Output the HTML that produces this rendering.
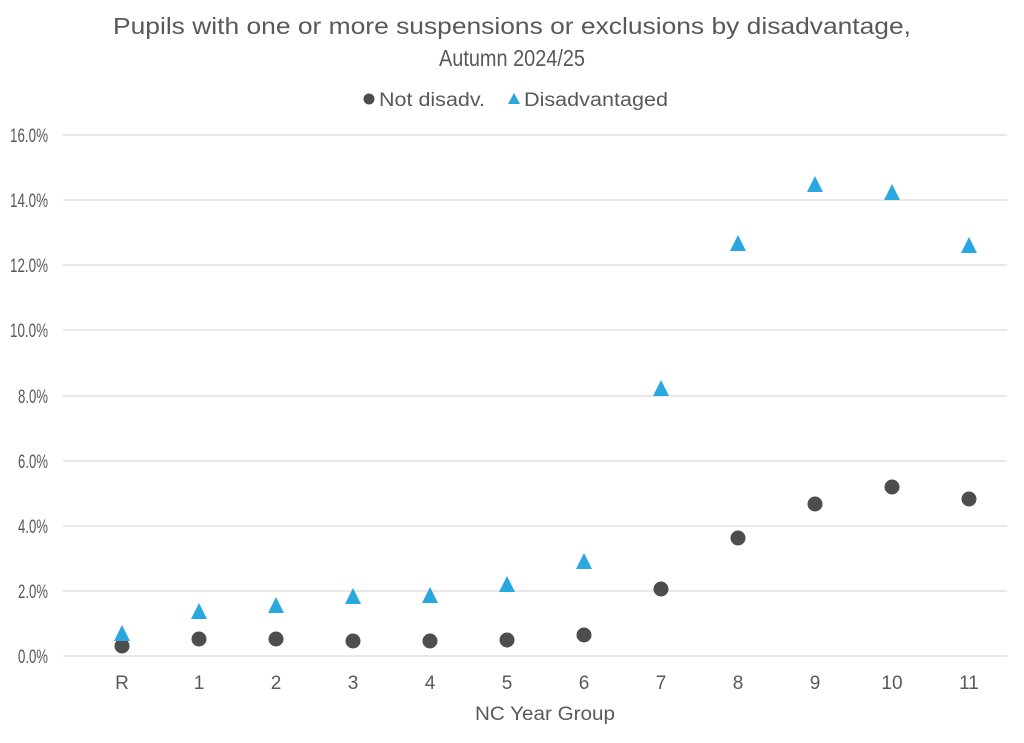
<!DOCTYPE html>
<html><head><style>body{margin:0;background:#fff}svg{display:block}</style></head><body>
<svg width="1024" height="743" xmlns="http://www.w3.org/2000/svg" font-family="Liberation Sans, sans-serif" fill="#595959">
<rect width="1024" height="743" fill="#fff"/>
<text x="512" y="34" font-size="23" text-anchor="middle" textLength="798" lengthAdjust="spacingAndGlyphs">Pupils with one or more suspensions or exclusions by disadvantage,</text>
<text x="512" y="66" font-size="23" text-anchor="middle" textLength="146" lengthAdjust="spacingAndGlyphs">Autumn 2024/25</text>
<circle cx="369" cy="99" r="5.5" fill="#4d4d4d"/>
<text x="379" y="106" font-size="19" textLength="106" lengthAdjust="spacingAndGlyphs">Not disadv.</text>
<polygon points="514,93 520,104 508,104" fill="#29a8e0"/>
<text x="524" y="106" font-size="19" textLength="144" lengthAdjust="spacingAndGlyphs">Disadvantaged</text>
<g stroke="#d9d9d9" stroke-width="1.3">
<line x1="63" x2="1007" y1="135" y2="135"/><line x1="63" x2="1007" y1="200" y2="200"/><line x1="63" x2="1007" y1="265" y2="265"/><line x1="63" x2="1007" y1="330" y2="330"/><line x1="63" x2="1007" y1="396" y2="396"/><line x1="63" x2="1007" y1="461" y2="461"/><line x1="63" x2="1007" y1="526" y2="526"/><line x1="63" x2="1007" y1="591" y2="591"/><line x1="63" x2="1007" y1="656" y2="656"/>
</g>
<g font-size="19" text-anchor="end" lengthAdjust="spacingAndGlyphs">
<text x="48" y="142" textLength="38" lengthAdjust="spacingAndGlyphs">16.0%</text><text x="48" y="207" textLength="38" lengthAdjust="spacingAndGlyphs">14.0%</text><text x="48" y="272" textLength="38" lengthAdjust="spacingAndGlyphs">12.0%</text><text x="48" y="337" textLength="38" lengthAdjust="spacingAndGlyphs">10.0%</text><text x="48" y="403" textLength="30" lengthAdjust="spacingAndGlyphs">8.0%</text><text x="48" y="468" textLength="30" lengthAdjust="spacingAndGlyphs">6.0%</text><text x="48" y="533" textLength="30" lengthAdjust="spacingAndGlyphs">4.0%</text><text x="48" y="598" textLength="30" lengthAdjust="spacingAndGlyphs">2.0%</text><text x="48" y="663" textLength="30" lengthAdjust="spacingAndGlyphs">0.0%</text>
</g>
<g font-size="19" text-anchor="middle">
<text x="122" y="689">R</text><text x="199" y="689">1</text><text x="276" y="689">2</text><text x="353" y="689">3</text><text x="430" y="689">4</text><text x="507" y="689">5</text><text x="584" y="689">6</text><text x="661" y="689">7</text><text x="738" y="689">8</text><text x="815" y="689">9</text><text x="892" y="689">10</text><text x="969" y="689">11</text>
<text x="545" y="720" textLength="140" lengthAdjust="spacingAndGlyphs">NC Year Group</text>
</g>
<g fill="#4d4d4d">
<circle cx="122" cy="646" r="7.5"/><circle cx="199" cy="639" r="7.5"/><circle cx="276" cy="639" r="7.5"/><circle cx="353" cy="641" r="7.5"/><circle cx="430" cy="641" r="7.5"/><circle cx="507" cy="640" r="7.5"/><circle cx="584" cy="635" r="7.5"/><circle cx="661" cy="589" r="7.5"/><circle cx="738" cy="538" r="7.5"/><circle cx="815" cy="504" r="7.5"/><circle cx="892" cy="487" r="7.5"/><circle cx="969" cy="499" r="7.5"/>
</g>
<g fill="#29a8e0">
<polygon points="122,625 130,641 114,641"/>
<polygon points="199,603 207,619 191,619"/>
<polygon points="276,597 284,613 268,613"/>
<polygon points="353,588 361,604 345,604"/>
<polygon points="430,587 438,603 422,603"/>
<polygon points="507,576 515,592 499,592"/>
<polygon points="584,553 592,569 576,569"/>
<polygon points="661,380 669,396 653,396"/>
<polygon points="738,235 746,251 730,251"/>
<polygon points="815,176 823,192 807,192"/>
<polygon points="892,184 900,200 884,200"/>
<polygon points="969,237 977,253 961,253"/>
</g>
</svg>
</body></html>
